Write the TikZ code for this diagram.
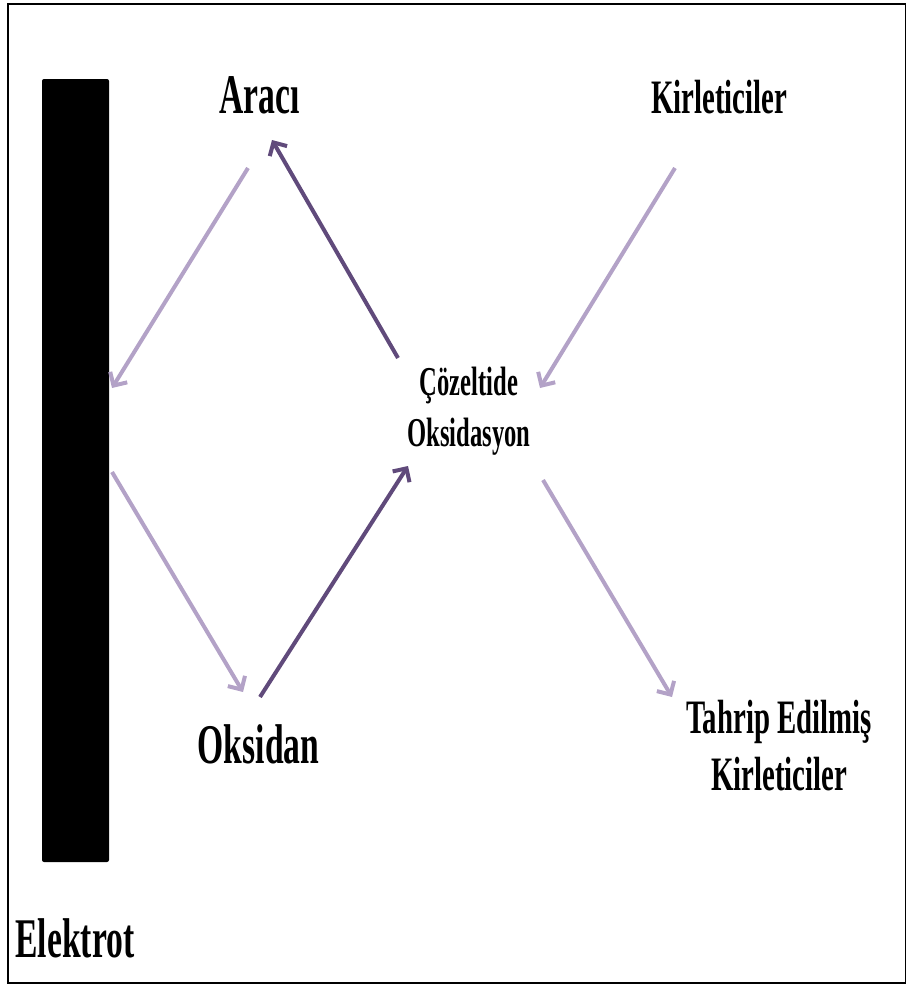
\documentclass[tikz,border=0pt]{standalone}
\usepackage{fontspec}
\usetikzlibrary{arrows.meta}
\newfontfamily\diafont[FakeStretch=0.6]{Liberation Serif}
\definecolor{litecol}{HTML}{B3A2C7}
\definecolor{darkcol}{HTML}{604A7B}
\tikzset{
  every node/.style={inner sep=0pt, font=\diafont\bfseries},
  bigtxt/.style={font=\diafont\bfseries\fontsize{56}{56}\selectfont},
  midtxt/.style={font=\diafont\bfseries\fontsize{48}{57}\selectfont, align=center},
  smalltxt/.style={font=\diafont\bfseries\fontsize{41}{51}\selectfont, align=center},
  litearrow/.style={-{Straight Barb[length=10pt,width=20pt]}, line width=4pt, litecol},
  darkarrow/.style={-{Straight Barb[length=10pt,width=20pt]}, line width=4pt, darkcol}
}

\begin{document}
\begin{tikzpicture}[x=1pt, y=-1pt]

  % Page frame.
  \useasboundingbox (0,0) rectangle (905,985);
  \draw[line width=1.5pt] (8,4) rectangle (906,983);

  % Electrode bar.
  \node[fill=black, rounded corners=2pt, minimum width=67pt, minimum height=783pt]
    (elec) at (75.5,470.5) {};
  \node[bigtxt, anchor=base] (elektrot) at (75,957) {Elektrot};

  % Labels.
  \node[bigtxt, anchor=base] (araci) at (259.5,113) {Aracı};
  \node[bigtxt, anchor=base] (oksidan) at (258.5,763) {Oksidan};
  \node[midtxt, anchor=base] (kirl) at (719,113) {Kirleticiler};
  \node[smalltxt, anchor=base] (cozel) at (469,446) {Çözeltide\\Oksidasyon};
  \node[midtxt, anchor=base] (tahrip) at (779,790) {Tahrip Edilmiş\\Kirleticiler};

  % Arrow ends.
  \coordinate (araciS) at (248,168);
  \coordinate (araciE) at (272,140);
  \coordinate (elecA) at (112,388);
  \coordinate (elecB) at (112,472);
  \coordinate (oksidanE) at (243,692);
  \coordinate (oksidanS) at (260,697);
  \coordinate (cozelN) at (398,358);
  \coordinate (cozelW) at (408,466);
  \coordinate (cozelE) at (540,388);
  \coordinate (cozelS) at (543,480);
  \coordinate (kirlS) at (675,168);
  \coordinate (tahripN) at (672,697);

  % Electrode cycle.
  \draw[litearrow] (araciS) -- (elecA);
  \draw[litearrow] (elecB) -- (oksidanE);
  \draw[darkarrow] (oksidanS) -- (cozelW);
  \draw[darkarrow] (cozelN) -- (araciE);

  % Pollutant path.
  \draw[litearrow] (kirlS) -- (cozelE);
  \draw[litearrow] (cozelS) -- (tahripN);

\end{tikzpicture}
\end{document}
